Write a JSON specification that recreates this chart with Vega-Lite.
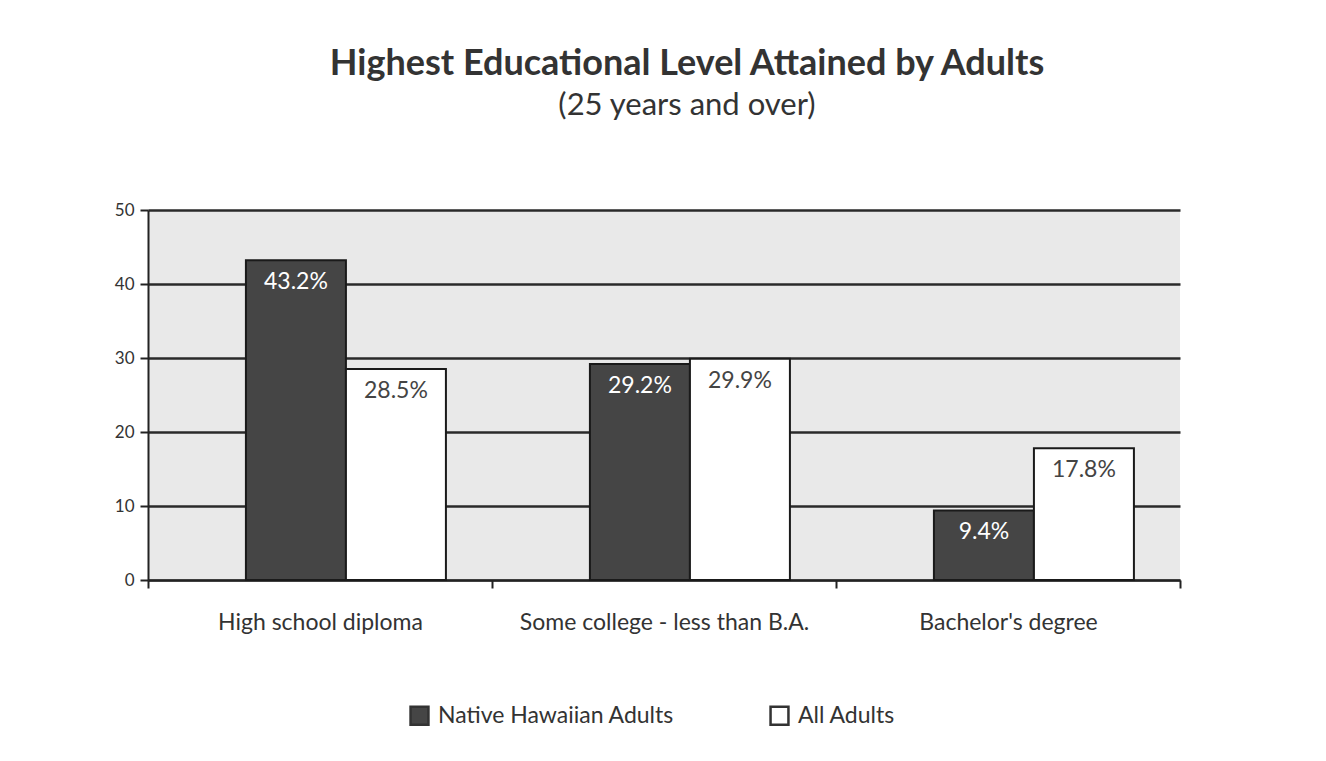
{
  "$schema": "https://vega.github.io/schema/vega-lite/v6.json",
  "autosize": {"type": "none"},
  "width": 1032,
  "height": 370,
  "padding": {"left": 148, "top": 210, "right": 146, "bottom": 181},
  "background": "white",
  "title": {
    "text": "Highest Educational Level Attained by Adults",
    "subtitle": "(25 years and over)",
    "font": "Lato",
    "fontSize": 36,
    "fontWeight": "bold",
    "color": "#333333",
    "subtitleFont": "Lato",
    "subtitleFontSize": 31,
    "subtitleColor": "#333333",
    "subtitlePadding": 8,
    "anchor": "middle",
    "dx": 23,
    "offset": 79
  },
  "data": {
    "values": [
      {"level": "High school diploma", "group": "Native Hawaiian Adults", "value": 43.2, "label": "43.2%"},
      {"level": "High school diploma", "group": "All Adults", "value": 28.5, "label": "28.5%"},
      {"level": "Some college - less than B.A.", "group": "Native Hawaiian Adults", "value": 29.2, "label": "29.2%"},
      {"level": "Some college - less than B.A.", "group": "All Adults", "value": 29.9, "label": "29.9%"},
      {"level": "Bachelor's degree", "group": "Native Hawaiian Adults", "value": 9.4, "label": "9.4%"},
      {"level": "Bachelor's degree", "group": "All Adults", "value": 17.8, "label": "17.8%"}
    ]
  },
  "encoding": {
    "x": {
      "field": "level",
      "type": "nominal",
      "sort": ["High school diploma", "Some college - less than B.A.", "Bachelor's degree"],
      "scale": {"paddingInner": 0, "paddingOuter": 0},
      "axis": {
        "title": null,
        "labelAngle": 0,
        "labelFont": "Lato",
        "labelFontSize": 23,
        "labelLimit": 0,
        "labelColor": "#333333",
        "labelPadding": 23,
        "tickBand": "extent",
        "tickColor": "#222222",
        "tickWidth": 2,
        "tickSize": 8,
        "domainColor": "#222222",
        "domainWidth": 2
      }
    },
    "xOffset": {
      "field": "group",
      "type": "nominal",
      "sort": ["Native Hawaiian Adults", "All Adults"],
      "scale": {"paddingOuter": 0.72, "align": 0.68}
    },
    "y": {
      "field": "value",
      "type": "quantitative",
      "scale": {"domain": [0, 50]},
      "axis": {
        "title": null,
        "values": [0, 10, 20, 30, 40, 50],
        "labelFont": "Lato",
        "labelFontSize": 17,
        "labelColor": "#333333",
        "labelPadding": 6,
        "tickColor": "#222222",
        "tickWidth": 2,
        "tickSize": 8,
        "domainColor": "#222222",
        "domainWidth": 2,
        "grid": true,
        "gridColor": "#2a2a2a",
        "gridWidth": 2.5
      }
    }
  },
  "layer": [
    {
      "mark": {"type": "bar", "stroke": "#1a1a1a", "strokeWidth": 2},
      "encoding": {
        "color": {
          "field": "group",
          "type": "nominal",
          "sort": ["Native Hawaiian Adults", "All Adults"],
          "scale": {"domain": ["Native Hawaiian Adults", "All Adults"], "range": ["#454545", "#ffffff"]},
          "legend": {
            "title": null,
            "orient": "none",
            "direction": "horizontal",
            "legendX": 260,
            "legendY": 494,
            "symbolType": "square",
            "symbolSize": 320,
            "symbolStrokeColor": "#333333",
            "symbolStrokeWidth": 2.5,
            "labelFont": "Lato",
            "labelFontSize": 23,
            "labelLimit": 0,
            "labelColor": "#333333",
            "columnPadding": 90,
            "labelOffset": 7
          }
        }
      }
    },
    {
      "mark": {"type": "text", "baseline": "middle", "dy": 22, "font": "Lato", "fontSize": 23},
      "encoding": {
        "text": {"field": "label", "type": "nominal"},
        "color": {
          "field": "group",
          "type": "nominal",
          "scale": {"domain": ["Native Hawaiian Adults", "All Adults"], "range": ["#ffffff", "#444444"]},
          "legend": null
        }
      }
    }
  ],
  "resolve": {"scale": {"color": "independent"}},
  "config": {
    "view": {"fill": "#e9e9e9", "stroke": null}
  }
}
